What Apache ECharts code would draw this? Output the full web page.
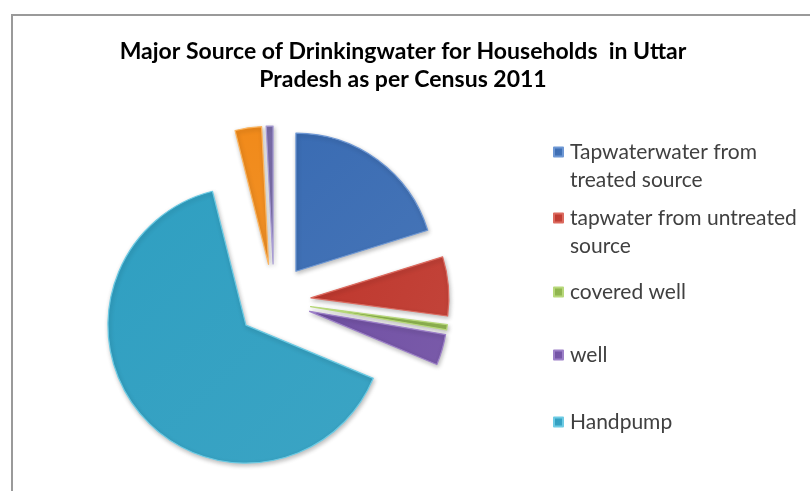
<!DOCTYPE html>
<html>
<head>
<meta charset="utf-8">
<script src="https://cdn.jsdelivr.net/npm/echarts@6/dist/echarts.min.js"></script>
<style>
  html, body { margin: 0; padding: 0; background: #ffffff; }
  #chart { width: 810px; height: 491px; }
</style>
</head>
<body>
<div id="chart"></div>
<script>
// Share of households (%) by main drinking-water source, Uttar Pradesh, Census 2011
const sourceNames = [
  'Tapwaterwater from\ntreated source',
  'tapwater from untreated\nsource',
  'covered well',
  'well',
  'Handpump',
  'Tubewell/Borehole',
  'Other sources'
];
const sourceShares = [20.2, 6.9, 0.6, 3.6, 64.8, 3.1, 0.8];
const sourceColors = ['#3a6cb3', '#bf372d', '#8db44a', '#7150a4', '#2f9fc1', '#f18a1a', '#7b6eab'];
const edgeColors   = ['#6d97d4', '#dc6a5f', '#b7d87a', '#9d80c8', '#6dcbe4', '#fbb560', '#a89cd4'];

// Only the first five sources appear in the legend
const legendNames = sourceNames.slice(0, 5);
const legendLineY = [152, 218, 292, 355, 422];   // vertical centre of each entry's first line

const LEGEND_LINE = 28;

const chart = echarts.init(document.getElementById('chart'), null, { renderer: 'canvas' });

const pieData = sourceNames.map((name, i) => ({
  name: name,
  value: sourceShares[i],
  selected: true,
  itemStyle: {
    color: new echarts.graphic.LinearGradient(0, 0, 1, 1, [
      { offset: 0, color: sourceColors[i] },
      { offset: 1, color: echarts.color.lift(sourceColors[i], 0.06) }
    ]),
    borderColor: edgeColors[i],
    borderWidth: 1.2
  }
}));

// One legend block per entry; two-line entries get a blank leading line so the
// swatch sits beside the first line of text
const legends = legendNames.map((name, i) => {
  const twoLine = name.indexOf('\n') >= 0;
  const lines = twoLine ? 3 : 1;
  return {
    orient: 'vertical',
    left: 553,
    top: legendLineY[i] - (lines * LEGEND_LINE) / 2,
    data: [name],
    icon: 'rect',
    itemWidth: 9,
    itemHeight: 9,
    itemGap: 0,
    padding: 0,
    selectedMode: false,
    formatter: n => (twoLine ? ' \n' + n : n),
    textStyle: {
      fontFamily: 'Lato',
      fontSize: 21,
      color: '#404040',
      lineHeight: LEGEND_LINE,
      padding: [0, 0, 0, 2]
    }
  };
});

chart.setOption({
  animation: false,
  backgroundColor: '#ffffff',
  color: sourceColors,
  title: {
    text: 'Major Source of Drinkingwater for Households  in Uttar\nPradesh as per Census 2011',
    left: 398,
    top: 33,
    textAlign: 'center',
    textStyle: {
      fontFamily: 'Lato',
      fontWeight: 'bold',
      fontSize: 23,
      lineHeight: 28,
      color: '#000000'
    }
  },
  legend: legends,
  graphic: [{
    type: 'rect',
    shape: { x: 12, y: 15, width: 820, height: 500 },
    style: { fill: 'none', stroke: '#9a9a9a', lineWidth: 2 },
    silent: true
  }],
  series: [{
    type: 'pie',
    center: [274, 301],
    radius: [0, 138],
    startAngle: 90,
    clockwise: true,
    selectedMode: 'multiple',
    selectedOffset: 37,
    label: { show: false },
    labelLine: { show: false },
    emphasis: { disabled: true },
    itemStyle: {
      shadowBlur: 4,
      shadowColor: 'rgba(0,0,0,0.25)',
      shadowOffsetX: 1,
      shadowOffsetY: 2
    },
    data: pieData
  }]
});
</script>
</body>
</html>
